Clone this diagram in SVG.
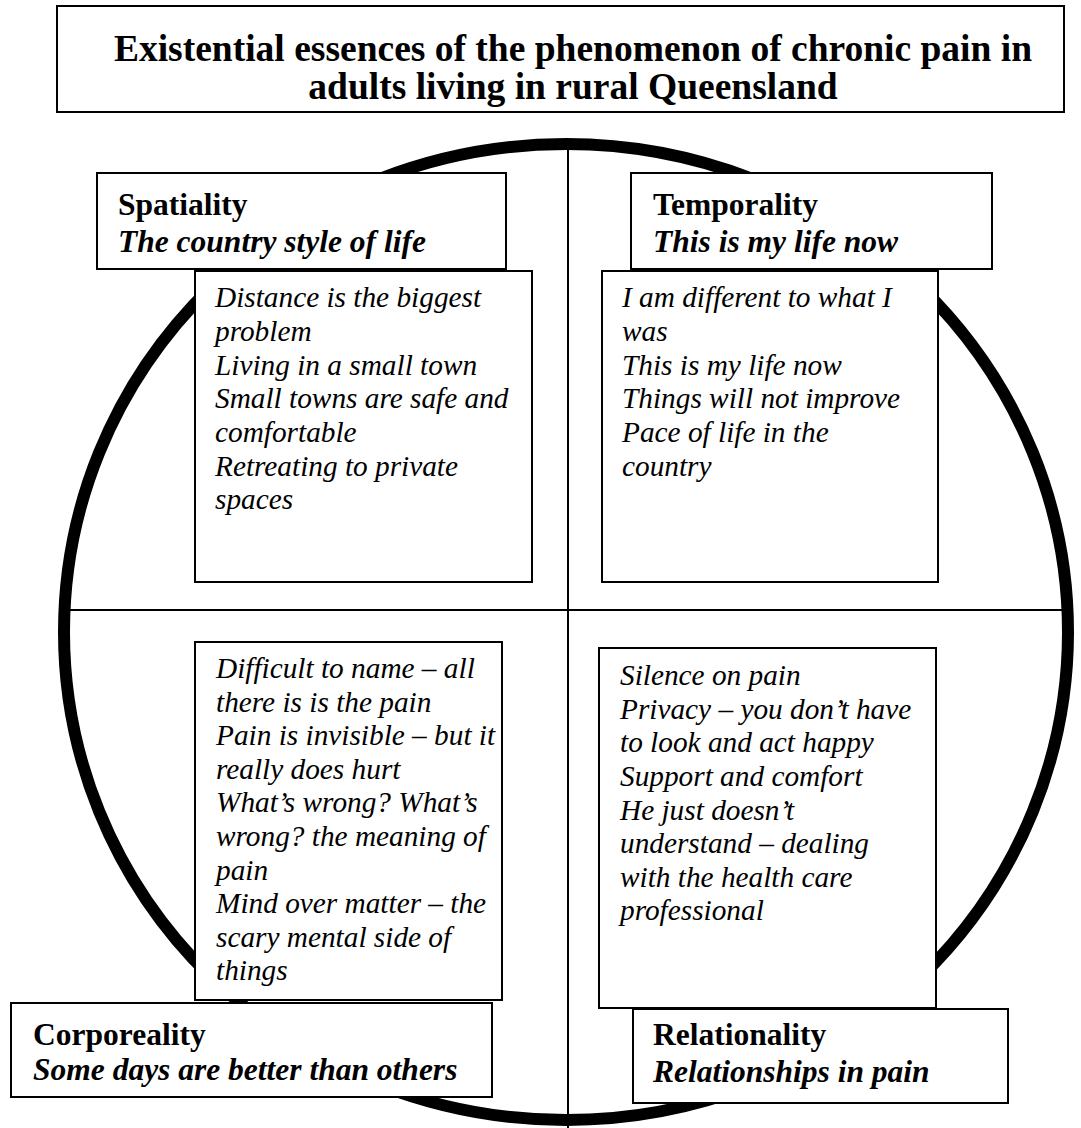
<svg xmlns="http://www.w3.org/2000/svg" width="1081" height="1128" viewBox="0 0 1081 1128">
<style>
.box{fill:#fff;stroke:#000;stroke-width:2}
.t{font-family:"Liberation Serif","Times New Roman",serif;fill:#000}
.title{font-size:37.5px;font-weight:bold;text-anchor:middle}
.lb{font-size:31.5px;font-weight:bold}
.lbi{font-size:31.5px;font-weight:bold;font-style:italic}
.body{font-size:29.3px;font-style:italic}
</style>
<rect width="1081" height="1128" fill="#fff"/>
<g id="title">
<rect class="box" x="57" y="6" width="1007" height="106"/>
<text class="t title" x="573"><tspan x="573" y="61">Existential essences of the phenomenon of chronic pain in</tspan><tspan x="573" y="99">adults living in rural Queensland</tspan></text>
</g>
<g id="connectors">
<ellipse cx="566" cy="632" rx="502" ry="488" fill="none" stroke="#000" stroke-width="12"/>
<line x1="568" y1="150" x2="568" y2="1128" stroke="#000" stroke-width="2"/>
<line x1="68" y1="610" x2="1063" y2="610" stroke="#000" stroke-width="2"/>
</g>
<g id="spatiality">
<rect class="box" x="97" y="173" width="409" height="96"/>
<text class="t lb" x="118" y="215">Spatiality</text>
<text class="t lbi" x="118" y="252">The country style of life</text>
</g>
<g id="spatiality-themes">
<rect class="box" x="195" y="271" width="337" height="311"/>
<text class="t body"><tspan x="215" y="307">Distance is the biggest</tspan><tspan x="215" y="341">problem</tspan><tspan x="215" y="375">Living in a small town</tspan><tspan x="215" y="408">Small towns are safe and</tspan><tspan x="215" y="442">comfortable</tspan><tspan x="215" y="476">Retreating to private</tspan><tspan x="215" y="509">spaces</tspan></text>
</g>
<g id="temporality">
<rect class="box" x="631" y="173" width="361" height="96"/>
<text class="t lb" x="653" y="215">Temporality</text>
<text class="t lbi" x="653" y="252">This is my life now</text>
</g>
<g id="temporality-themes">
<rect class="box" x="602" y="271" width="336" height="311"/>
<text class="t body"><tspan x="622" y="307">I am different to what I</tspan><tspan x="622" y="341">was</tspan><tspan x="622" y="375">This is my life now</tspan><tspan x="622" y="408">Things will not improve</tspan><tspan x="622" y="442">Pace of life in the</tspan><tspan x="622" y="476">country</tspan></text>
</g>
<g id="corporeality-themes">
<rect class="box" x="195" y="642" width="307" height="358"/>
<text class="t body"><tspan x="216" y="678">Difficult to name – all</tspan><tspan x="216" y="712">there is is the pain</tspan><tspan x="216" y="745">Pain is invisible – but it</tspan><tspan x="216" y="779">really does hurt</tspan><tspan x="216" y="812">What’s wrong? What’s</tspan><tspan x="216" y="846">wrong? the meaning of</tspan><tspan x="216" y="880">pain</tspan><tspan x="216" y="913">Mind over matter – the</tspan><tspan x="216" y="947">scary mental side of</tspan><tspan x="216" y="980">things</tspan></text>
</g>
<g id="corporeality">
<rect class="box" x="11" y="1003" width="481" height="94"/>
<text class="t lb" x="33" y="1045">Corporeality</text>
<text class="t lbi" x="33" y="1080">Some days are better than others</text>
</g>
<g id="relationality-themes">
<rect class="box" x="599" y="648" width="337" height="360"/>
<text class="t body"><tspan x="620" y="685">Silence on pain</tspan><tspan x="620" y="719">Privacy – you don’t have</tspan><tspan x="620" y="752">to look and act happy</tspan><tspan x="620" y="786">Support and comfort</tspan><tspan x="620" y="820">He just doesn’t</tspan><tspan x="620" y="853">understand – dealing</tspan><tspan x="620" y="887">with the health care</tspan><tspan x="620" y="920">professional</tspan></text>
</g>
<g id="relationality">
<rect class="box" x="633" y="1009" width="375" height="94"/>
<text class="t lb" x="653" y="1045">Relationality</text>
<text class="t lbi" x="653" y="1082">Relationships in pain</text>
</g>
</svg>
